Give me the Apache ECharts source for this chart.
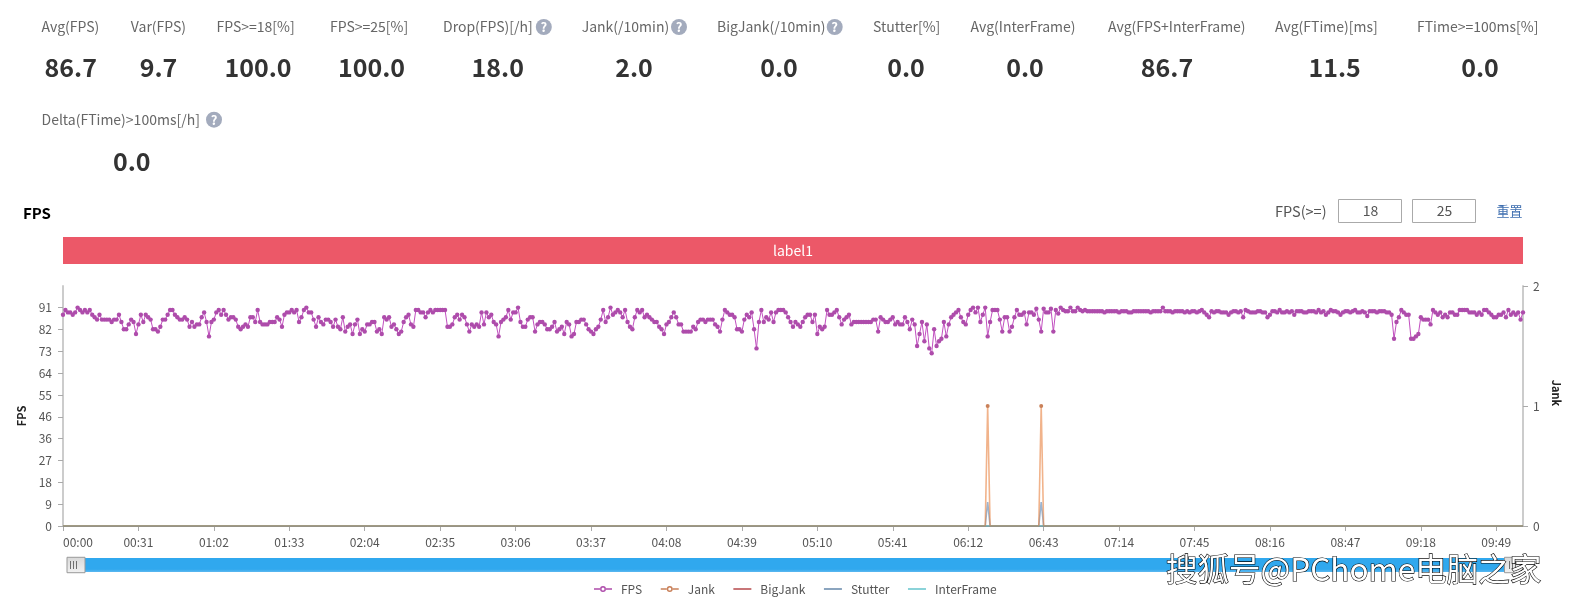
<!DOCTYPE html>
<html>
<head>
<meta charset="utf-8">
<style>html,body{margin:0;padding:0;background:#fff}#c{width:1577px;height:603px}</style>
<script src="https://cdn.jsdelivr.net/npm/echarts@6/dist/echarts.min.js"></script>
</head>
<body>
<div id="c"></div>
<script>
const kpiNames = ['Avg(FPS)','Var(FPS)','FPS>=18[%]','FPS>=25[%]','Drop(FPS)[/h]','Jank(/10min)','BigJank(/10min)','Stutter[%]','Avg(InterFrame)','Avg(FPS+InterFrame)','Avg(FTime)[ms]','FTime>=100ms[%]','Delta(FTime)>100ms[/h]'];
const kpiValues = ['86.7','9.7','100.0','100.0','18.0','2.0','0.0','0.0','0.0','86.7','11.5','0.0','0.0'];
const seriesNames = ['FPS','Jank','BigJank','Stutter','InterFrame'];
const fpsTickValues = [0,9.1,18.2,27.3,36.4,45.5,54.6,63.7,72.8,81.9,91];
const jankTickValues = [0,1,2];
const fpsThresholds = ['18','25'];

const fps = [
88,90,89,89,88,89,91,90,89,90,
89,90,88,87,86,88,86,86,86,86,
85,86,86,88,85,82,82,84,86,85,
80,84,88,85,88,87,86,82,82,81,
83,86,86,88,90,90,88,87,86,86,
87,86,83,85,83,84,84,87,89,85,
79,85,86,89,90,88,90,88,86,87,
87,86,83,82,83,84,83,87,87,85,
90,85,84,84,84,85,85,85,87,86,
83,88,89,89,90,89,90,85,87,90,
91,89,89,86,83,87,85,84,86,86,
85,83,86,83,82,87,81,83,84,80,
84,86,80,82,81,84,84,85,85,81,
82,80,87,86,87,83,84,82,80,81,
85,87,88,84,83,90,90,89,89,87,
89,90,89,90,90,90,90,90,83,83,
84,87,88,86,88,87,84,81,84,83,
84,83,89,84,89,87,88,85,84,79,
85,86,87,90,86,89,89,91,85,83,
83,86,87,87,81,84,85,85,84,82,
82,83,85,81,82,83,80,85,84,79,
80,85,85,86,86,84,82,81,80,82,
83,86,90,85,87,91,88,89,90,89,
87,90,85,83,82,87,90,89,90,87,
88,87,86,85,85,83,82,80,84,85,
87,89,87,84,84,81,81,81,81,83,
82,85,86,86,85,86,86,86,84,83,
81,86,90,89,88,88,87,82,82,81,
86,88,87,89,82,74,85,90,85,87,
86,89,85,89,90,90,90,89,87,85,
83,85,84,83,85,87,88,88,85,88,
80,83,82,83,90,88,88,89,90,87,
84,86,87,88,84,85,85,85,85,85,
85,85,85,86,86,81,87,86,85,85,
86,87,84,85,84,84,87,85,82,86,
84,75,80,85,77,84,74,72,82,75,
77,78,85,79,84,87,88,89,90,87,
85,84,88,90,91,89,91,85,88,91,
79,85,90,90,90,86,81,87,87,81,
83,87,90,88,88,89,84,89,89,88,
90.5,86,81,90.5,89,89,90.5,81,90,88.5,
91,90,89.5,89.5,91,89.5,89.5,91,90,89.5,
90,89.5,89.5,89.5,89.5,89.5,89.5,89.5,89,89.5,
89.5,89.5,89.5,89.5,89,89.5,89.5,89.5,89,89,
89.5,89.5,89.5,89.5,89.5,89.5,89.5,89,89.5,89.5,
89.5,89.5,91,89.5,89.5,89.5,89,89.5,89.5,89.5,
89.5,89,89.5,89,89.5,89.5,89,89.5,90,89,
88,87,89.5,89,89.5,89.5,89,89,89,88,
89,89.5,89.5,89,89.5,87,90,89.5,89,89,
89,89.5,89.5,89,89,87,88,89.5,89.5,89,
90,89,89,89.5,89,89.5,88,89.5,89.5,89.5,
89,89,89.5,89.5,89.5,89,90,89,89.5,88,
89,90,89.5,89.5,89,88,89,89.5,89.5,89,
89.5,90,89,89,89.5,89,87.5,89.5,89.5,89.5,
89,89.5,89.5,89.5,89,89,88,78,85,87,
90,89,88,88,78,78,79,80,87,86,
86,86,84,90,89,88,89,87,88,87,
89,89,88,88,90,90,90,90,89,89,
89,88,89,88,90,90,89,88,87,87,
88,88,89,87,90,88,89,88,89,86,
89];

const jankEvents = {380:1, 402:1};
const stutterEvents = {380:0.2, 402:0.2};
const jank = fps.map((_, i) => jankEvents[i] || 0);
const bigJank = fps.map(() => 0);
const stutter = fps.map((_, i) => stutterEvents[i] || 0);
const interFrame = fps.map(() => 0);
const categories = fps.map((_, i) => String(Math.floor(i/60)).padStart(2,'0') + ':' + String(i%60).padStart(2,'0'));

const FONT = '"Noto Sans CJK SC","Noto Sans",sans-serif';
const labelX = [41.5,130.8,216.5,330,443,581.7,717,873,970.5,1108,1275,1417,41.5];
const valueX = [70.8,158.5,258,371.5,497.8,634,779,906,1025,1167,1334.6,1480,131.7];
const labelY = [27,27,27,27,27,27,27,27,27,27,27,27,119.7];
const valueY = [67.4,67.4,67.4,67.4,67.4,67.4,67.4,67.4,67.4,67.4,67.4,67.4,161];
const helpIcons = [[543.8,27],[679,27],[834.7,27],[214,119.7]];

const graphic = [];
kpiNames.forEach((t,i)=>{
  graphic.push({type:'text',x:labelX[i],y:labelY[i],style:{text:t,fill:'#666',font:'14px '+FONT,textAlign:'left',textVerticalAlign:'middle'}});
  graphic.push({type:'text',x:valueX[i],y:valueY[i],style:{text:kpiValues[i],fill:'#333',font:'bold 25px '+FONT,textAlign:'center',textVerticalAlign:'middle'}});
});
helpIcons.forEach(p=>{
  graphic.push({type:'circle',shape:{cx:p[0],cy:p[1],r:8},style:{fill:'#a3abbd'}});
  graphic.push({type:'text',x:p[0],y:p[1],style:{text:'?',fill:'#fff',font:'bold 13px '+FONT,textAlign:'center',textVerticalAlign:'middle'}});
});
graphic.push({type:'text',x:23,y:213,style:{text:'FPS',fill:'#000',font:'bold 15px '+FONT,textAlign:'left',textVerticalAlign:'middle'}});
graphic.push({type:'text',x:1275,y:211,style:{text:'FPS(>=)',fill:'#555',font:'14.5px '+FONT,textAlign:'left',textVerticalAlign:'middle'}});
[[1338.5,fpsThresholds[0]],[1412.5,fpsThresholds[1]]].forEach(b=>{
  graphic.push({type:'rect',shape:{x:b[0],y:199.5,width:63,height:23},style:{fill:'#fff',stroke:'#aaa',lineWidth:1}});
  graphic.push({type:'text',x:b[0]+32,y:211,style:{text:b[1],fill:'#555',font:'14px '+FONT,textAlign:'center',textVerticalAlign:'middle'}});
});
graphic.push({type:'text',x:1496.5,y:211,style:{text:'重置',fill:'#3f6fb0',font:'13px '+FONT,textAlign:'left',textVerticalAlign:'middle'}});
graphic.push({type:'rect',shape:{x:63,y:237,width:1460,height:27},style:{fill:'#ec5868'}});
graphic.push({type:'text',x:793,y:250.5,style:{text:'label1',fill:'#fff',font:'14px '+FONT,textAlign:'center',textVerticalAlign:'middle'}});
[73.5,1512.5].forEach(x=>{
  graphic.push({type:'text',z:200,x:x,y:565,style:{text:'III',fill:'#666',font:'10px '+FONT,textAlign:'center',textVerticalAlign:'middle'}});
});
graphic.push({type:'text',z:300,x:1166,y:569,style:{text:'搜狐号@PChome电脑之家',fill:'#fff',font:'31.5px '+FONT,textAlign:'left',textVerticalAlign:'middle',textShadowColor:'#000',textShadowOffsetX:-2,textShadowOffsetY:2,textShadowBlur:0,stroke:'#000',lineWidth:1.2}});

const lineIcon = 'path://M0,0L0,0Z M18,6L18,6Z M0,2.2H18V3.8H0Z';
const ringIcon = 'path://M0,2.2H6.2V3.8H0Z M11.8,2.2H18V3.8H11.8Z M6,3a3,3 0 1,0 6,0a3,3 0 1,0 -6,0Z M7.5,3a1.5,1.5 0 1,1 3,0a1.5,1.5 0 1,1 -3,0Z';

const chart = echarts.init(document.getElementById('c'), null, {renderer:'canvas'});
const lineCommon = {type:'line',yAxisIndex:1,animation:false,symbol:'none',silent:true};
chart.setOption({
  animation:false,
  backgroundColor:'#fff',
  textStyle:{fontFamily:FONT},
  grid:{left:63,right:54,top:286,bottom:77,containLabel:false},
  legend:{
    data:[
      {name:seriesNames[0],icon:ringIcon},
      {name:seriesNames[1],icon:ringIcon},
      {name:seriesNames[2],icon:lineIcon},
      {name:seriesNames[3],icon:lineIcon},
      {name:seriesNames[4],icon:lineIcon}
    ],
    left:589,top:578,itemWidth:18,itemHeight:6,itemGap:18.5,
    textStyle:{color:'#555',fontSize:12,fontFamily:FONT,padding:[0,0,0,4]}
  },
  xAxis:{
    type:'category',data:categories,boundaryGap:false,offset:2,
    axisLine:{lineStyle:{color:'#aaa',width:1}},
    axisTick:{interval:30,length:5,lineStyle:{color:'#aaa'}},
    axisLabel:{interval:30,color:'#555',fontSize:12,alignMinLabel:'left',margin:8}
  },
  yAxis:[
    {type:'value',min:0,max:100,name:'FPS',nameLocation:'middle',nameRotate:90,nameGap:34,
     nameTextStyle:{color:'#222',fontSize:11,fontWeight:'bold',padding:[0,20,0,0]},
     splitLine:{show:false},
     axisLine:{show:true,lineStyle:{color:'#ccc',width:2}},
     axisTick:{show:true,length:5,customValues:fpsTickValues,lineStyle:{color:'#aaa'}},
     axisLabel:{color:'#555',fontSize:12,margin:11,customValues:fpsTickValues,formatter:v=>String(Math.round(v))}},
    {type:'value',min:0,max:2,interval:1,name:'Jank',nameLocation:'middle',nameRotate:-90,nameGap:28,
     nameTextStyle:{color:'#222',fontSize:11,fontWeight:'bold',padding:[0,26,0,0]},
     splitLine:{show:false},
     axisLine:{show:true,lineStyle:{color:'#ccc',width:2}},
     axisTick:{show:true,length:5,lineStyle:{color:'#aaa'}},
     axisLabel:{color:'#555',fontSize:12,margin:10,customValues:jankTickValues}}
  ],
  dataZoom:[{
    type:'slider',xAxisIndex:0,filterMode:'none',left:73.5,right:64,top:558,height:14,
    showDetail:false,showDataShadow:false,brushSelect:false,moveHandleSize:0,
    borderColor:'transparent',backgroundColor:'#eee',
    fillerColor:new echarts.graphic.LinearGradient(0,0,0,1,[{offset:0,color:'#5cb8f0'},{offset:0.2,color:'#30a8ee'},{offset:1,color:'#30a8ee'}]),
    handleIcon:'path://M0,0H21V18H0Z',handleSize:18,
    handleStyle:{color:new echarts.graphic.LinearGradient(0,0,0,1,[{offset:0,color:'#f2f2f2'},{offset:1,color:'#d8d8d8'}]),borderColor:'#999',borderWidth:1}
  }],
  series:[
    {name:'FPS',type:'line',yAxisIndex:0,z:6,data:fps,animation:false,silent:true,showSymbol:true,showAllSymbol:true,
     symbol:'circle',symbolSize:4.4,
     itemStyle:{color:'#ae4cab'},
     lineStyle:{color:'#c24fc0',width:1}},
    Object.assign({},lineCommon,{name:'Jank',z:5,data:jank,showSymbol:true,showAllSymbol:true,symbol:'circle',
     symbolSize:v=>v>0?4:0,
     itemStyle:{color:'#c9815a'},
     lineStyle:{color:'#e8803e',width:1.6,opacity:0.6}}),
    Object.assign({},lineCommon,{name:'BigJank',z:2,data:bigJank,itemStyle:{color:'#b64a4c'},lineStyle:{color:'#c23a3a',width:1.6,opacity:0.6}}),
    Object.assign({},lineCommon,{name:'Stutter',z:3,data:stutter,itemStyle:{color:'#6688aa'},lineStyle:{color:'#5c84b0',width:1.6,opacity:0.6}}),
    Object.assign({},lineCommon,{name:'InterFrame',z:4,data:interFrame,itemStyle:{color:'#66c5cd'},lineStyle:{color:'#3fc2cc',width:1.6,opacity:0.8}})
  ],
  graphic:{elements:graphic}
});
</script>
</body>
</html>
